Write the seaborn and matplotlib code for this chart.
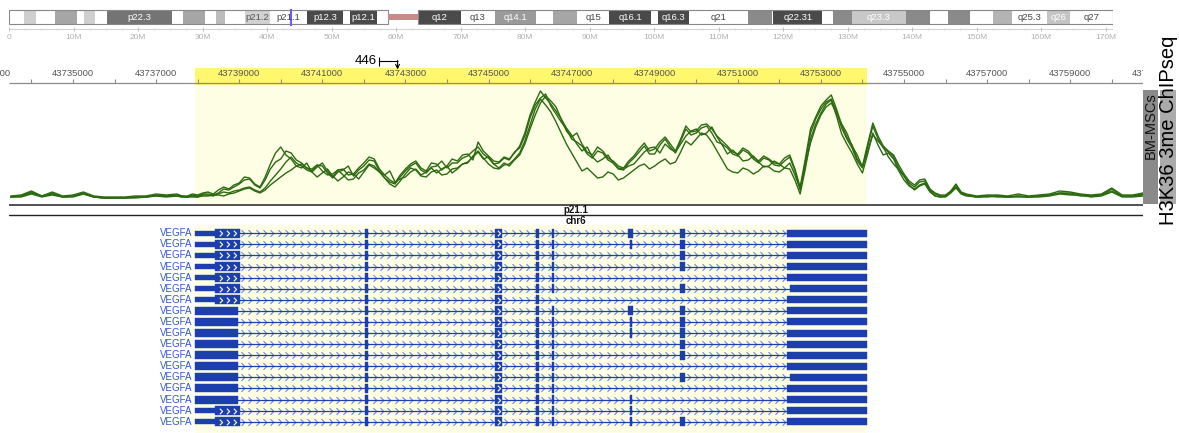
import numpy as np
import pandas as pd
import matplotlib
matplotlib.use('Agg')
import matplotlib.pyplot as plt
import seaborn as sns
from matplotlib.patches import Rectangle

sns.set_style('white')
plt.rcParams['font.family'] = ['Liberation Sans', 'DejaVu Sans']

# ---------------- data ----------------
# chr6 ideogram bands (Mb)
band_start = [0.0, 2.3, 4.2, 7.1, 10.6, 11.6, 13.4, 15.2, 25.2, 27.0, 30.4, 32.1, 33.5, 36.6, 40.5,
              46.2, 51.8, 52.9, 57.0, 63.4, 70.0, 75.3, 81.7, 84.3, 88.0, 93.1, 99.5, 100.6, 105.5,
              114.6, 118.3, 118.5, 126.1, 127.8, 130.7, 139.0, 142.8, 145.6, 149.0, 152.5, 155.5,
              161.0, 164.5]
band_end = [2.3, 4.2, 7.1, 10.6, 11.6, 13.4, 15.2, 25.2, 27.0, 30.4, 32.1, 33.5, 36.6, 40.5, 46.2,
            51.8, 52.9, 57.0, 58.7, 70.0, 75.3, 81.7, 84.3, 88.0, 93.1, 99.5, 100.6, 105.5, 114.6,
            118.3, 118.5, 126.1, 127.8, 130.7, 139.0, 142.8, 145.6, 149.0, 152.5, 155.5, 161.0,
            164.5, 171.1]
band_shade = ['#ffffff', '#cfcfcf', '#ffffff', '#a6a6a6', '#ffffff', '#cfcfcf', '#ffffff', '#747474',
              '#ffffff', '#a6a6a6', '#ffffff', '#bcbcbc', '#ffffff', '#d2d2d2', '#ffffff', '#4a4a4a',
              '#ffffff', '#4a4a4a', '#ffffff', '#4a4a4a', '#ffffff', '#9a9a9a', '#ffffff', '#a6a6a6',
              '#ffffff', '#4a4a4a', '#ffffff', '#4a4a4a', '#ffffff', '#8a8a8a', '#ffffff', '#4a4a4a',
              '#ffffff', '#8a8a8a', '#c8c8c8', '#8a8a8a', '#ffffff', '#8a8a8a', '#ffffff', '#b4b4b4',
              '#ffffff', '#c4c4c4', '#ffffff']
band_label = ['', '', '', '', '', '', '', 'p22.3', '', '', '', '', '', 'p21.2', 'p21.1', 'p12.3', '',
              'p12.1', '', 'q12', 'q13', 'q14.1', '', '', 'q15', 'q16.1', '', 'q16.3', 'q21', '', '',
              'q22.31', '', '', 'q23.3', '', '', '', '', '', 'q25.3', 'q26', 'q27']
cen_start, cen_end = 58.7, 63.4
chr_len = 171.1
locus_mb = 43.74

# ChIP-seq coverage, 4 replicates (250 bp bins on the flanks, 125 bp bins over the gene)
sig_pos = np.concatenate([np.arange(43733500, 43737500, 250),
                          np.arange(43737500, 43756500, 125),
                          np.arange(43756500, 43760751, 250)])
rep1 = [3, 4, 8, 3, 7, 3, 4, 7, 3, 2, 2, 2, 3, 3, 5, 4,
        5, 3, 3, 5, 4, 6, 7, 5, 9, 12, 10, 14, 16, 22, 21, 15, 12, 22, 35, 46, 52, 44, 40, 33,
        31, 36, 27, 32, 36, 28, 22, 29, 30, 24, 25, 31, 36, 42, 40, 30, 24, 19, 16, 24, 30, 35,
        38, 31, 28, 36, 35, 29, 33, 40, 38, 44, 45, 39, 57, 48, 43, 38, 37, 42, 40, 46, 53, 66,
        84, 97, 108, 101, 95, 88, 80, 68, 62, 66, 55, 47, 44, 52, 48, 41, 38, 33, 31, 38, 43, 50,
        56, 48, 50, 57, 62, 55, 48, 60, 73, 67, 68, 74, 75, 70, 63, 58, 53, 47, 45, 51, 48, 42,
        38, 43, 40, 36, 35, 41, 44, 30, 12, 40, 70, 82, 93, 99, 104, 90, 74, 62, 54, 40, 33, 55,
        76, 63, 53, 48, 44, 34, 25, 18, 14, 19, 20, 10, 6, 4, 4, 8, 15, 7,
        5, 3, 4, 4, 3, 5, 3, 4, 5, 8, 7, 5, 4, 5, 11, 4, 4, 6]
rep2 = [2, 2, 5, 2, 4, 2, 2, 5, 2, 1, 1, 1, 2, 2, 3, 2,
        3, 2, 2, 3, 2, 4, 4, 3, 5, 7, 6, 8, 9, 11, 12, 9, 7, 11, 18, 24, 30, 37, 42, 36,
        33, 29, 27, 22, 26, 30, 23, 18, 22, 27, 25, 20, 27, 34, 31, 27, 24, 28, 17, 20, 22, 27,
        30, 24, 27, 31, 26, 30, 33, 26, 30, 35, 37, 42, 47, 40, 42, 35, 31, 36, 33, 39, 44, 55,
        70, 84, 96, 103, 98, 92, 80, 71, 64, 55, 48, 52, 42, 37, 40, 44, 36, 31, 30, 33, 35, 41,
        47, 51, 52, 46, 55, 50, 47, 55, 63, 68, 70, 64, 66, 72, 62, 54, 45, 49, 44, 38, 39, 43,
        37, 32, 33, 38, 35, 31, 36, 24, 10, 33, 56, 72, 84, 92, 96, 86, 75, 66, 53, 44, 32, 48,
        64, 58, 52, 42, 35, 29, 23, 14, 9, 13, 15, 7, 3, 2, 2, 6, 11, 5,
        3, 2, 2, 3, 2, 2, 2, 2, 3, 5, 4, 4, 2, 3, 7, 2, 2, 3]
rep3 = [2, 3, 6, 3, 5, 2, 3, 5, 2, 1, 1, 1, 1, 2, 3, 3,
        3, 2, 2, 2, 2, 3, 3, 4, 4, 3, 5, 6, 8, 10, 11, 8, 6, 9, 14, 18, 22, 26, 29, 33,
        35, 31, 30, 34, 28, 24, 25, 29, 24, 19, 20, 26, 29, 35, 33, 27, 21, 15, 12, 18, 25, 31,
        29, 23, 22, 27, 29, 24, 25, 30, 31, 35, 36, 43, 48, 41, 35, 31, 30, 34, 35, 40, 46, 58,
        74, 90, 100, 94, 87, 77, 66, 55, 46, 37, 28, 31, 26, 21, 22, 27, 25, 19, 21, 25, 29, 33,
        35, 30, 33, 37, 40, 35, 37, 47, 58, 54, 60, 66, 64, 57, 48, 39, 30, 27, 26, 31, 29, 25,
        28, 33, 32, 28, 27, 31, 30, 19, 5, 30, 60, 75, 86, 95, 99, 83, 65, 55, 46, 35, 26, 45,
        66, 54, 44, 46, 40, 28, 19, 13, 10, 14, 16, 8, 3, 2, 3, 7, 12, 6,
        4, 2, 3, 2, 2, 3, 2, 3, 4, 6, 5, 3, 3, 4, 8, 3, 3, 4]
rep4 = [2, 3, 7, 3, 6, 2, 3, 6, 2, 1, 1, 1, 2, 2, 4, 3,
        4, 3, 2, 4, 3, 5, 5, 4, 6, 10, 9, 12, 15, 19, 20, 14, 11, 19, 30, 37, 40, 48, 46, 39,
        36, 31, 28, 34, 33, 26, 21, 27, 29, 33, 23, 29, 33, 39, 38, 28, 21, 17, 15, 22, 28, 33,
        36, 29, 26, 32, 33, 38, 31, 36, 36, 41, 43, 48, 52, 45, 41, 35, 36, 41, 39, 47, 51, 63,
        81, 94, 101, 105, 93, 85, 77, 70, 60, 57, 53, 45, 41, 48, 46, 39, 36, 30, 29, 36, 41, 47,
        53, 45, 45, 54, 60, 52, 46, 58, 70, 64, 66, 71, 73, 66, 57, 55, 51, 45, 43, 49, 46, 40,
        36, 41, 39, 34, 33, 38, 42, 28, 9, 37, 66, 80, 90, 97, 100, 87, 71, 60, 51, 38, 31, 52,
        73, 60, 51, 47, 42, 31, 23, 16, 12, 17, 18, 9, 5, 3, 3, 7, 14, 6,
        4, 2, 3, 3, 2, 3, 2, 3, 4, 6, 6, 4, 3, 4, 10, 3, 3, 5]

# VEGFA transcripts
n_tx = 18
tx_start, tx_end = 43737936, 43754109
utr5_end = 43738418
ex1_end = 43739019
ex1_end_alt = 43738971
utr_rows = [0, 1, 2, 3, 4, 5, 6, 16, 17]
shared_exons = [(43742028, 43742100), (43745157, 43745325), (43746143, 43746215)]
ex5 = (43746528, 43746576)
ex5_skip_rows = [6]
ex6 = (43748357, 43748477)
ex6_thick_rows = [0, 7]
ex6_thin_rows = [1, 8, 9, 15, 16, 17]
ex7 = (43749609, 43749729)
ex7_rows = [0, 1, 2, 3, 5, 7, 8, 9, 10, 11, 13, 17]
last_start = 43752184
last_start_alt = 43752256
last_alt_rows = [5, 13]
scale_bar_bp = 446

# ---------------- layout ----------------
W, H = 1179, 433
fig = plt.figure(figsize=(W / 100, H / 100), dpi=100)


def px_axes(x0, y0, x1, y1):
    ax = fig.add_axes([x0 / W, 1 - y1 / H, (x1 - x0) / W, (y1 - y0) / H])
    ax.set_axis_off()
    return ax


def bp(px):
    return 43735000 + (px - 73) / 0.04155


hl_bright = '#fff86e'
hl_light = '#fefee4'
green = '#2c6a10'
gene_blue = '#1d3fae'
chev_blue = '#6d89d8'

# ---- ideogram ----
ax_ideo = px_axes(9, 0, 9 + chr_len * 6.45, 44)
ax_ideo.set_xlim(0, chr_len)
ax_ideo.set_ylim(44, 0)
for s, e, c, lab in zip(band_start, band_end, band_shade, band_label):
    ax_ideo.add_patch(Rectangle((s, 10), e - s, 14, facecolor=c, edgecolor='none'))
    if lab:
        tc = '#444444' if c == '#ffffff' else ('#555555' if c == '#d2d2d2' else 'white')
        ax_ideo.text((s + e) / 2, 17.3, lab, ha='center', va='center', fontsize=6.8, color=tc)
ax_ideo.add_patch(Rectangle((0, 10), cen_start, 14, fill=False, edgecolor='#888888', lw=0.8))
ax_ideo.add_patch(Rectangle((cen_end, 10), chr_len - cen_end, 14, fill=False, edgecolor='#888888', lw=0.8))
ax_ideo.add_patch(Rectangle((cen_start, 14), cen_end - cen_start, 6, facecolor='#c98a8a', edgecolor='none'))
ax_ideo.vlines(locus_mb, 8.5, 25.5, color='#6a5cff', lw=1.5)
ax_ideo.hlines(29, 0, chr_len, color='#d4d4d4', lw=0.8)
ax_ideo.vlines(np.arange(0, 171, 2.5), 28, 30, color='#d0d0d0', lw=0.6)
ax_ideo.vlines(np.arange(0, 171, 10), 27, 31, color='#c0c0c0', lw=0.7)
for m in range(0, 171, 10):
    ax_ideo.text(m, 37.5, '0' if m == 0 else f'{m}M', ha='center', va='center',
                 fontsize=6, color='#b0b0b0')

# ---- ruler ----
ax_rul = px_axes(0, 44, 1143, 86)
ax_rul.set_xlim(bp(0), bp(1143))
ax_rul.set_ylim(86, 44)
ax_rul.add_patch(Rectangle((tx_start, 67.5), tx_end - tx_start, 17.5, facecolor=hl_bright, edgecolor='none'))
ax_rul.hlines(82.5, bp(9), bp(1143), color='#8c8c8c', lw=0.9)
ax_rul.vlines(np.arange(43733000, 43761001, 1000), 79, 82.5, color='#8c8c8c', lw=0.8)
for p in np.arange(43733000, 43762000, 2000):
    ax_rul.text(p, 73, str(p), ha='center', va='center', fontsize=6.8, color='#555555', clip_on=True)
bar0 = bp(379)
ax_rul.text(bar0 - 60, 61, str(scale_bar_bp), ha='right', va='center', fontsize=9.5, color='black')
ax_rul.vlines(bar0, 56.5, 65.5, color='black', lw=0.8)
ax_rul.hlines(61, bar0, bar0 + scale_bar_bp, color='black', lw=0.8)
ax_rul.annotate('', xy=(bar0 + scale_bar_bp, 69.5), xytext=(bar0 + scale_bar_bp, 60.6),
                arrowprops=dict(arrowstyle='->', color='black', lw=0.8, shrinkA=0, shrinkB=0,
                                mutation_scale=7))

# ---- signal ----
ax_sig = px_axes(9, 86, 1143, 204)
reps = {'r1': rep1, 'r2': rep2, 'r3': rep3, 'r4': rep4}
df = pd.DataFrame({
    'pos': np.tile(sig_pos, len(reps)),
    'value': np.concatenate([np.array(v) for v in reps.values()]),
    'rep': np.repeat(list(reps.keys()), len(sig_pos)),
})
ax_sig.axvspan(tx_start, tx_end, color=hl_light, lw=0, zorder=0)
sns.lineplot(data=df, x='pos', y='value', units='rep', estimator=None, color=green,
             lw=1.0, ax=ax_sig, legend=False)
ax_sig.set_axis_off()
ax_sig.set_xlim(bp(9), bp(1143))
ax_sig.set_ylim(-5, 113)

# ---- genes ----
ax_gene = px_axes(9, 204, 1143, 433)
ax_gene.set_xlim(bp(9), bp(1143))
ax_gene.set_ylim(18.02, -2.644)
ax_gene.add_patch(Rectangle((tx_start, -0.75), tx_end - tx_start, 19, facecolor=hl_light,
                            edgecolor='none', zorder=0))
ax_gene.axhline(-2.58, color='#222222', lw=1.1)
ax_gene.axhline(-1.65, color='#222222', lw=1.0)
ax_gene.text(0.5, -2.1, 'p21.1', transform=ax_gene.get_yaxis_transform(), ha='center',
             va='center', fontsize=7, fontweight='bold', color='#111111')
ax_gene.text(0.5, -1.12, 'chr6', transform=ax_gene.get_yaxis_transform(), ha='center',
             va='center', fontsize=7, fontweight='bold', color='#111111')

chev = [(-0.6, 1.0), (0.4, 0.0), (-0.6, -1.0)]
chev_pos = np.arange(bp(243), bp(786), 176)
white_chev = [bp(221), bp(228), bp(235)]


def block(s, e, r, h):
    ax_gene.add_patch(Rectangle((s, r - h / 2), e - s, h, facecolor=gene_blue,
                                edgecolor=gene_blue, lw=0.3, zorder=3))


for r in range(n_tx):
    ax_gene.text(tx_start - 60, r, 'VEGFA', ha='right', va='center', fontsize=7, color='#3157cf')
    ax_gene.plot(chev_pos, np.full(len(chev_pos), r), ls='none', marker=chev, ms=4.8, mew=0.8,
                 mec=chev_blue, mfc='none', zorder=1)
    ls = last_start_alt if r in last_alt_rows else last_start
    ax_gene.hlines(r, tx_start, ls + 50, color=gene_blue, lw=0.9, zorder=2)
    if r in utr_rows:
        block(tx_start, utr5_end, r, 0.45)
        block(utr5_end, ex1_end, r, 0.82)
        ax_gene.plot(white_chev, [r] * 3, ls='none', marker=chev, ms=4.0, mew=0.8, mec='white',
                     mfc='none', zorder=4)
    else:
        block(tx_start, ex1_end_alt, r, 0.72)
    for s, e in shared_exons:
        block(s, e, r, 0.82)
    ax_gene.plot([(shared_exons[1][0] + shared_exons[1][1]) / 2], [r], ls='none', marker=chev,
                 ms=4.0, mew=0.8, mec='white', mfc='none', zorder=4)
    if r not in ex5_skip_rows:
        block(ex5[0], ex5[1], r, 0.82)
    if r in ex6_thick_rows:
        block(ex6[0], ex6[1], r, 0.82)
    elif r in ex6_thin_rows:
        block(ex6[0] + 40, ex6[0] + 90, r, 0.82)
    if r in ex7_rows:
        block(ex7[0], ex7[1], r, 0.82)
    block(ls, tx_end, r, 0.63)

# ---- track labels ----
ax_lab = px_axes(1143, 0, 1179, 433)
ax_lab.set_xlim(1143, 1179)
ax_lab.set_ylim(433, 0)
ax_lab.add_patch(Rectangle((1143, 90), 15, 114, facecolor='#8a8a8a', edgecolor='none'))
ax_lab.add_patch(Rectangle((1160, 90), 16, 114, facecolor='#ababab', edgecolor='none'))
ax_lab.text(1151, 92, 'BM-MSCs', rotation=90, ha='center', va='top', fontsize=10.5, color='#111111')
ax_lab.text(1168.5, 130, 'H3K36 3me ChIPseq', rotation=90, ha='center', va='center',
            fontsize=14.5, color='black')

fig.savefig('out.png', dpi=100)
